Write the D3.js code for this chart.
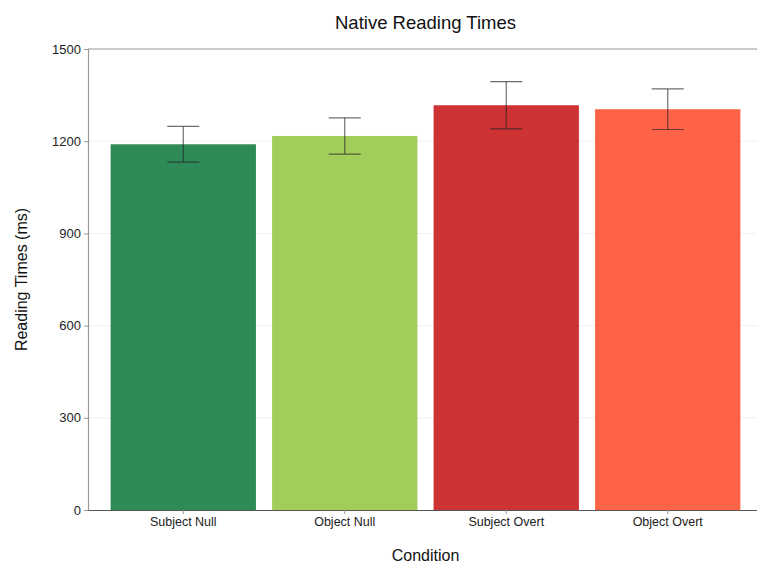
<!DOCTYPE html>
<html>
<head>
<meta charset="utf-8">
<script src="https://cdn.jsdelivr.net/npm/d3@7"></script>
<style>
  html, body { margin: 0; padding: 0; background: #fff; }
  text { font-family: "Liberation Sans", Arial, sans-serif; }
</style>
</head>
<body>
<svg id="chart" width="757" height="565"></svg>
<script>
// Mean reading times per condition with standard error
const conditions = ["Subject Null", "Object Null", "Subject Overt", "Object Overt"];
const means = [1190, 1217, 1317, 1304];
const errors = [58, 59, 77, 66];
const colors = ["#2e8b57", "#a2cd5a", "#cd3333", "#ff6347"];
const yTicks = [0, 300, 600, 900, 1200, 1500];

const svg = d3.select("#chart");
const margin = { left: 88, right: -6, top: 49, bottom: 55 };
const W = 757, H = 565;

const x = d3.scaleBand()
  .domain(conditions)
  .range([margin.left, W - margin.right])
  .paddingInner(0.1)
  .paddingOuter(0.14);

const y = d3.scaleLinear()
  .domain([0, 1500])
  .range([H - margin.bottom, margin.top]);

// Horizontal grid lines
svg.append("g")
  .selectAll("line")
  .data(yTicks.slice(1))
  .join("line")
  .attr("x1", margin.left)
  .attr("x2", W)
  .attr("y1", d => y(d))
  .attr("y2", d => y(d))
  .attr("stroke", "#f0f0f0")
  .attr("stroke-width", 1);

// Top border
svg.append("line")
  .attr("x1", margin.left).attr("x2", W)
  .attr("y1", y(1500)).attr("y2", y(1500))
  .attr("stroke", "#a0a0a0").attr("stroke-width", 1.2);

// Bars
svg.append("g")
  .selectAll("rect")
  .data(conditions)
  .join("rect")
  .attr("x", d => x(d))
  .attr("width", x.bandwidth())
  .attr("y", (d, i) => y(means[i]))
  .attr("height", (d, i) => y(0) - y(means[i]))
  .attr("fill", (d, i) => colors[i]);

// Error bars
const capHalf = 16;
const eb = svg.append("g")
  .attr("stroke", "#222")
  .attr("stroke-opacity", 0.65)
  .attr("stroke-width", 1.2)
  .attr("fill", "none");
conditions.forEach((c, i) => {
  const cx = x(c) + x.bandwidth() / 2;
  const top = y(means[i] + errors[i]);
  const bot = y(means[i] - errors[i]);
  eb.append("line").attr("x1", cx).attr("x2", cx).attr("y1", top).attr("y2", bot);
  eb.append("line").attr("x1", cx - capHalf).attr("x2", cx + capHalf).attr("y1", top).attr("y2", top);
  eb.append("line").attr("x1", cx - capHalf).attr("x2", cx + capHalf).attr("y1", bot).attr("y2", bot);
});

// Y axis
const yAxis = svg.append("g")
  .attr("transform", `translate(${margin.left},0)`)
  .call(d3.axisLeft(y).tickValues(yTicks).tickFormat(d3.format("d")).tickSize(4).tickPadding(3));
yAxis.select(".domain").attr("stroke", "#999").attr("stroke-width", 1.2);
yAxis.selectAll(".tick line").attr("stroke", "#999");
yAxis.selectAll(".tick text").attr("font-size", 13).attr("fill", "#222")
  .style("font-family", "'Liberation Sans', Arial, sans-serif");

// X axis
const xAxis = svg.append("g")
  .attr("transform", `translate(0,${y(0)})`)
  .call(d3.axisBottom(x).tickSize(4).tickSizeOuter(0).tickPadding(3));
xAxis.select(".domain").attr("stroke", "#555").attr("stroke-width", 1.2);
xAxis.selectAll(".tick line").attr("stroke", "#999");
xAxis.selectAll(".tick text").attr("font-size", 12.5).attr("fill", "#222")
  .style("font-family", "'Liberation Sans', Arial, sans-serif");

// Titles
const plotCenter = (margin.left + W - margin.right) / 2;
svg.append("text")
  .attr("x", plotCenter).attr("y", 29)
  .attr("text-anchor", "middle")
  .attr("font-size", 18.5).attr("fill", "#111")
  .text("Native Reading Times");

svg.append("text")
  .attr("x", plotCenter).attr("y", 561)
  .attr("text-anchor", "middle")
  .attr("font-size", 16).attr("fill", "#111")
  .text("Condition");

svg.append("text")
  .attr("transform", `translate(27,${(y(0) + y(1500)) / 2}) rotate(-90)`)
  .attr("text-anchor", "middle")
  .attr("font-size", 16).attr("fill", "#111")
  .text("Reading Times (ms)");
</script>
</body>
</html>
